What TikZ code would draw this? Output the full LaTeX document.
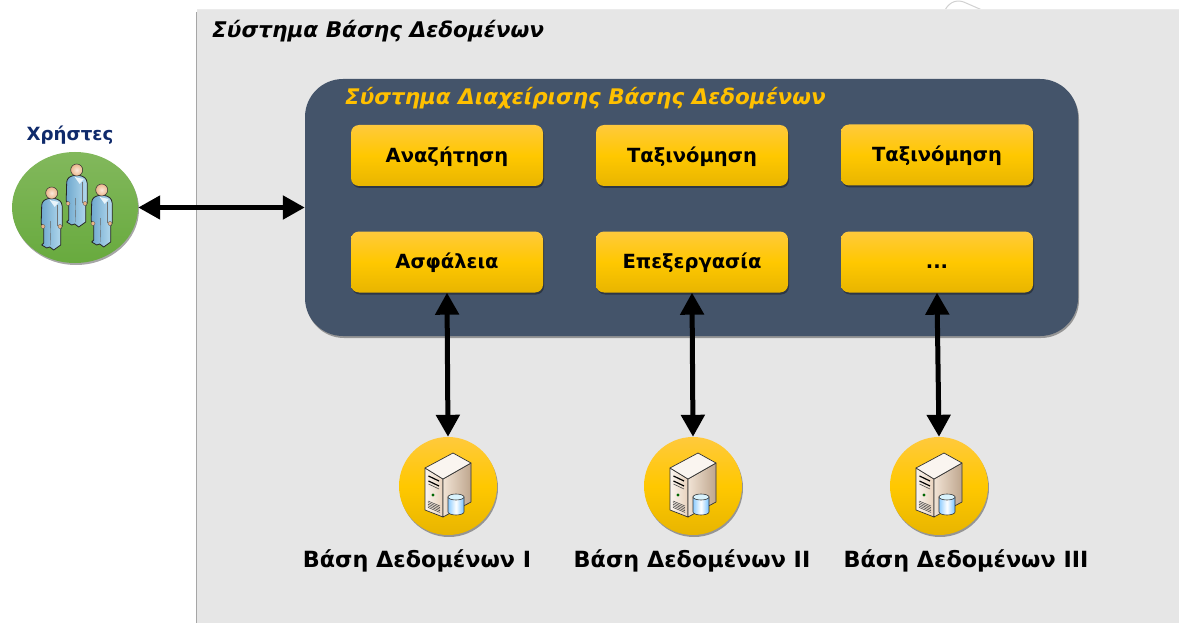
\documentclass[tikz,border=0pt]{standalone}
\usepackage{fontspec}
\setmainfont{DejaVu Sans}
\usetikzlibrary{shapes.geometric,shadows,arrows.meta}
\definecolor{panelc}{HTML}{44546A}
\definecolor{outerc}{HTML}{E6E6E6}
\definecolor{goldT}{HTML}{FFC93C}
\definecolor{goldM}{HTML}{FFC800}
\definecolor{goldB}{HTML}{E8B500}
\definecolor{navyc}{HTML}{0F2A6B}
\definecolor{titley}{HTML}{FFC000}
\definecolor{skinc}{HTML}{F2BE96}
\definecolor{suitL}{HTML}{6FA8CE}
\definecolor{suitR}{HTML}{B5DAEE}
\definecolor{usersT}{HTML}{82B85C}
\definecolor{usersB}{HTML}{68AA3E}
\tikzset{
  softshadow/.style={drop shadow={shadow xshift=1pt,shadow yshift=-2pt,opacity=.35,fill=black}},
  goldbox/.style={rectangle,rounded corners=8pt,minimum width=192pt,minimum height=61pt,inner sep=0pt,
    text height=14pt,text depth=0pt,
    top color=goldT,bottom color=goldB,middle color=goldM,softshadow,
    font=\fontsize{19.5}{22}\selectfont\bfseries,text=black},
  dbcircle/.style={circle,minimum size=98pt,inner sep=0pt,top color=goldT,bottom color=goldB,middle color=goldM,softshadow},
  dblabel/.style={font=\fontsize{22.3}{26}\selectfont\bfseries,text=black,inner sep=0pt},
  biarrow/.style={line width=5pt,black,{Triangle[length=22pt,width=23pt]}-{Triangle[length=22pt,width=23pt]}},
  personbody/.style={draw=black!85,line width=.8pt,left color=suitL,right color=suitR,line join=round},
}
\newcommand{\personfig}[2]{%
  \begin{scope}[shift={(#1,#2)}]
    \path[personbody] (-3,5.5) .. controls (-7,6.5) and (-9.5,8) .. (-10,12) -- (-10.5,31)
      -- (-8,33) -- (-8,50) -- (-10,52) -- (-5,55) -- (-2,54) -- (2,57) -- (9,52)
      -- (9,36) -- (10.5,33) -- (10.5,13) .. controls (10,8) and (7,6.5) .. (3,5.5) -- cycle;
    \fill[white!70!suitR] (-2,7) -- (7,9) -- (3,14) -- cycle;
    \draw[black!60,line width=.4pt] (-1,28) -- (-1.5,52);
    \draw[black!55,line width=.5pt] (5.5,12) -- (5.5,33);
    \fill[skinc!85!brown,draw=black!70,line width=.3pt] (-8.7,33.5) circle (2);
    \fill[skinc!85!brown,draw=black!70,line width=.3pt] (8.3,33.5) circle (2);
    \shade[inner color=skinc!35!white,outer color=skinc!85!brown,draw=black!80,line width=.5pt] (0,0) circle (6);
  \end{scope}%
}
\newcommand{\serverfig}[2]{%
  \begin{scope}[shift={(#1,#2)}]
    \path[draw=black!80,line width=.7pt,left color=white!92!brown,right color=brown!35!white,line join=round]
      (-23,-18) -- (-5,-7) -- (-5,31) -- (-23,24) -- cycle;
    \path[draw=black!80,line width=.7pt,left color=brown!22!white,right color=brown!55!gray!70,line join=round]
      (-5,-7) -- (23,-23) -- (23,16) -- (-5,31) -- cycle;
    \path[draw=black!80,line width=.7pt,fill=brown!8!white,line join=round]
      (-23,-18) -- (5,-33) -- (23,-23) -- (-5,-7) -- cycle;
    \draw[black,line width=1.2pt] (-19.5,-10) -- (-9,-5);
    \draw[black,line width=1.2pt] (-19.5,-5) -- (-9,0);
    \draw[black!70,line width=.6pt] (-19.5,-2) -- (-9,3);
    \fill[green!40!black] (-15,9) circle (1.7);
    \foreach \k in {0,1.6,3.2,4.8,6.4} \draw[black!75,line width=.5pt] (-20,15+\k) -- (-8,20+\k);
    \path[draw=black!80,line width=.6pt,left color=blue!45!cyan!45!white,right color=blue!45!cyan!55!white,middle color=white]
      (0,11) -- (0,26) arc[start angle=180,end angle=360,x radius=8,y radius=-3] -- (16,11) -- cycle;
    \path[draw=black!80,line width=.6pt,fill=cyan!15!white] (8,11) ellipse (8 and 3);
  \end{scope}%
}
\begin{document}
\begin{tikzpicture}[x=1pt,y=-1pt]
\useasboundingbox (0,0) rectangle (1179,623);
\fill[white] (0,0) rectangle (1179,623);
\draw[black!18,line width=1pt,line cap=round] (945,10) .. controls (950,1) and (958,-1) .. (966,3) -- (982,10);
% outer system
\fill[black!35] (195.5,12) rectangle (198,623);
\fill[black!8] (197,9.3) rectangle (1179,11);
\node[rectangle,fill=outerc,minimum width=982pt,minimum height=613pt,inner sep=0pt] (outer) at (688,316.5) {};
\node[anchor=west,inner sep=0pt,font=\fontsize{21.6}{24}\selectfont\bfseries\itshape,text=black] (outertitle) at (212,31.5) {Σύστημα Βάσης Δεδομένων};
% panel
\node[rectangle,rounded corners=38pt,fill=panelc,minimum width=773pt,minimum height=257pt,inner sep=0pt,softshadow] (panel) at (691.5,207.5) {};
\node[anchor=west,inner sep=0pt,font=\fontsize{21.5}{24}\selectfont\bfseries\itshape,text=titley] (paneltitle) at (345,98.5) {Σύστημα Διαχείρισης Βάσης Δεδομένων};
% function boxes
\node[goldbox] (b1) at (447,155.5) {Αναζήτηση};
\node[goldbox] (b2) at (692,155.5) {Ταξινόμηση};
\node[goldbox] (b3) at (937,155) {Ταξινόμηση};
\node[goldbox] (b4) at (447,262) {Ασφάλεια};
\node[goldbox] (b5) at (692,262) {Επεξεργασία};
\node[goldbox] (b6) at (937,262) {...};
% databases
\node[dbcircle] (d1) at (448,486) {};
\node[dbcircle] (d2) at (693,486) {};
\node[dbcircle] (d3) at (939,486) {};
\serverfig{448}{486}
\serverfig{693}{486}
\serverfig{939}{486}
\node[dblabel] (l1) at (417,561) {Βάση Δεδομένων Ι};
\node[dblabel] (l2) at (692,561) {Βάση Δεδομένων ΙΙ};
\node[dblabel] (l3) at (966,561) {Βάση Δεδομένων ΙΙΙ};
% users
\node[ellipse,minimum width=126pt,minimum height=111pt,inner sep=0pt,top color=usersT,bottom color=usersB,softshadow] (users) at (75,207.5) {};
\personfig{76.7}{170}
\personfig{51.7}{193}
\personfig{101.7}{190}
\node[inner sep=0pt,font=\fontsize{18.2}{22}\selectfont\bfseries,text=navyc] (userslabel) at (70,135) {Χρήστες};
% connectors
\draw[biarrow] (users.east) -- (panel.west);
\draw[biarrow] (b4.south) -- (d1.north);
\draw[biarrow] (b5.south) -- (d2.north);
\draw[biarrow] (b6.south) -- (d3.north);
\end{tikzpicture}
\end{document}
